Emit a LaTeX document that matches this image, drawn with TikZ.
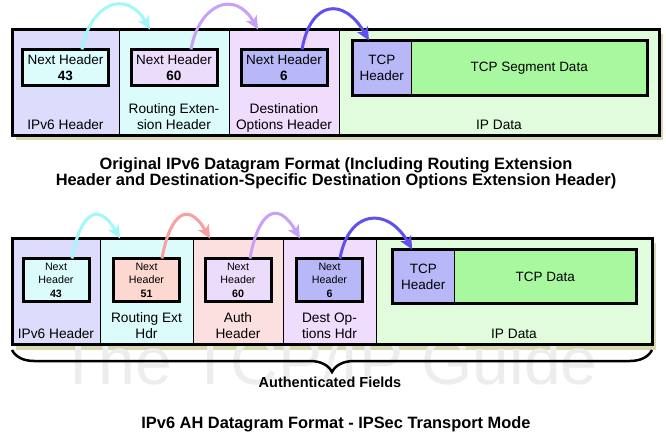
\documentclass[tikz,border=0pt]{standalone}
\usepackage{fontspec}
\setmainfont{Liberation Sans}
\usepackage{tikz}
\usetikzlibrary{positioning}
\usetikzlibrary{arrows.meta,decorations.pathreplacing,backgrounds}

\definecolor{ipvcol}{HTML}{DCDCFC}
\definecolor{rtecol}{HTML}{DCFCFC}
\definecolor{dstcol}{HTML}{F0DCFC}
\definecolor{authcol}{HTML}{FCE0E0}
\definecolor{ipdcol}{HTML}{E0FCDC}
\definecolor{nhpurple}{HTML}{ECDCFC}
\definecolor{nhsalmon}{HTML}{FCD8D0}
\definecolor{tcphcol}{HTML}{B8B8F8}
\definecolor{tcpdcol}{HTML}{A8F8A0}
\definecolor{shadowcol}{HTML}{D8D8B0}
\definecolor{arrcyan}{HTML}{A0F8F8}
\definecolor{arrpurple}{HTML}{C8A0F8}
\definecolor{arrblue}{HTML}{6050F0}
\definecolor{arrsalmon}{HTML}{F8A0A0}
\definecolor{wmark}{HTML}{EDEDED}

\begin{document}
\begin{tikzpicture}[x=1pt,y=1pt,>={Stealth[length=13pt,width=12pt,inset=3pt]},
        col/.style={draw,line width=0.8pt,minimum height=106pt,inner sep=0pt,outer sep=0pt,anchor=north west},
        nhbox/.style={draw,line width=3pt,minimum width=86pt,minimum height=36pt,inner sep=0pt,outer sep=0pt,
          align=center,font=\fontsize{13.5}{16}\selectfont},
        nhsmall/.style={draw,line width=3pt,minimum width=66pt,minimum height=43pt,inner sep=0pt,outer sep=0pt,
          align=center,font=\fontsize{10.7}{13.5}\selectfont},
        tcpbox/.style={draw,line width=0.8pt,inner sep=0pt,outer sep=0pt,align=center,
          font=\fontsize{13.5}{16}\selectfont},
        lbl/.style={align=center,inner sep=0pt,font=\fontsize{13.7}{16}\selectfont},
        title/.style={align=center,inner sep=0pt,font=\bfseries\fontsize{16.4}{16}\selectfont},
        link/.style={->,line width=3pt}]

  \useasboundingbox (0,0) rectangle (666,-438);

  % original datagram
  \node[col, fill=ipvcol, minimum width=107pt] (ipv6) at (12,-29.5) {};
  \node[col, fill=rtecol, minimum width=110pt, right=0pt of ipv6] (rte) {};
  \node[col, fill=dstcol, minimum width=110pt, right=0pt of rte] (dst) {};
  \node[col, fill=ipdcol, minimum width=320pt, right=0pt of dst] (ipd) {};
  \draw[line width=3pt] (ipv6.north west) rectangle (ipd.south east);

  \node[nhbox, fill=rtecol, below=20pt of ipv6.north] (nh1) {Next Header\\\textbf{43}};
  \node[nhbox, fill=nhpurple, below=20pt of rte.north] (nh2) {Next Header\\\textbf{60}};
  \node[nhbox, fill=tcphcol, below=20pt of dst.north] (nh3) {Next Header\\\textbf{6}};

  \node[tcpbox, fill=tcphcol, minimum width=58.5pt, minimum height=55pt, anchor=north west]
    (tcph) at ([shift={(13.5,-11)}]ipd.north west) {TCP\\Header};
  \node[tcpbox, fill=tcpdcol, minimum width=236.5pt, minimum height=55pt, right=0pt of tcph] (tcpd) {TCP Segment Data};
  \draw[line width=3pt] (tcph.north west) rectangle (tcpd.south east);

  \node[lbl, above=1pt of ipv6.south] {IPv6 Header\strut};
  \node[lbl, above=1pt of rte.south] {Routing Exten-\\sion Header\strut};
  \node[lbl, above=1pt of dst.south] {Destination\\Options Header\strut};
  \node[lbl, above=1pt of ipd.south] {IP Data\strut};

  \path (nh1.north) ++(16.5,0) coordinate (nh1a)
        (nh2.north) ++(17,0) coordinate (nh2a)
        (nh3.north) ++(18,0) coordinate (nh3a);
  \path[link] (nh1a) edge [arrcyan, out=80, in=120, looseness=1.7] ([xshift=31pt]rte.north west)
        (nh2a) edge [arrpurple, out=80, in=120, looseness=1.7] ([xshift=29pt]dst.north west)
        (nh3a) edge [arrblue, out=80, in=120, looseness=1.9] ([xshift=-12.75pt]tcph.north);

  \node[title] (title1) at (336,-173) {Original IPv6 Datagram Format (Including Routing Extension\\
    Header and Destination-Specific Destination Options Extension Header)};

  % AH datagram
  \node[col, fill=ipvcol, minimum width=88pt] (ipv6b) at (12,-238.5) {};
  \node[col, fill=rtecol, minimum width=93pt, right=0pt of ipv6b] (rteb) {};
  \node[col, fill=authcol, minimum width=90pt, right=0pt of rteb] (auth) {};
  \node[col, fill=dstcol, minimum width=93pt, right=0pt of auth] (dstb) {};
  \node[col, fill=ipdcol, minimum width=276pt, right=0pt of dstb] (ipdb) {};
  \draw[line width=3pt] (ipv6b.north west) rectangle (ipdb.south east);

  \node[nhsmall, fill=rtecol, below=20pt of ipv6b.north] (nhb1) {Next\\Header\\\textbf{43}};
  \node[nhsmall, fill=nhsalmon, below=20pt of rteb.north] (nhb2) {Next\\Header\\\textbf{51}};
  \node[nhsmall, fill=nhpurple, below=20pt of auth.north] (nhb3) {Next\\Header\\\textbf{60}};
  \node[nhsmall, fill=tcphcol, below=20pt of dstb.north] (nhb4) {Next\\Header\\\textbf{6}};

  \node[tcpbox, fill=tcphcol, minimum width=61.5pt, minimum height=54pt, anchor=north west]
    (tcphb) at ([shift={(16.5,-11)}]ipdb.north west) {TCP\\Header};
  \node[tcpbox, fill=tcpdcol, minimum width=182.5pt, minimum height=54pt, right=0pt of tcphb] (tcpdb) {TCP Data};
  \draw[line width=3pt] (tcphb.north west) rectangle (tcpdb.south east);

  \node[lbl, above=1.5pt of ipv6b.south] {IPv6 Header\strut};
  \node[lbl, above=1.5pt of rteb.south] {Routing Ext\\Hdr\strut};
  \node[lbl, above=1.5pt of auth.south] {Auth\\Header\strut};
  \node[lbl, above=1.5pt of dstb.south] {Dest Op-\\tions Hdr\strut};
  \node[lbl, above=1.5pt of ipdb.south] {IP Data\strut};

  \path (nhb1.north) ++(16,0) coordinate (nhb1a)
        (nhb2.north) ++(15.5,0) coordinate (nhb2a)
        (nhb3.north) ++(12,0) coordinate (nhb3a)
        (nhb4.north) ++(10.5,0) coordinate (nhb4a);
  \path[link] (nhb1a) edge [arrcyan, out=80, in=120, looseness=2.2] ([xshift=20pt]rteb.north west)
        (nhb2a) edge [arrsalmon, out=80, in=120, looseness=2.2] ([xshift=17pt]auth.north west)
        (nhb3a) edge [arrpurple, out=80, in=120, looseness=2.2] ([xshift=17pt]dstb.north west)
        (nhb4a) edge [arrblue, out=80, in=120, looseness=1.75] ([xshift=-11pt]tcphb.north);

  \draw[line width=2.5pt, decorate, decoration={brace, mirror, amplitude=22pt}]
    ([yshift=-5.5pt]ipv6b.south west) -- ([yshift=-5.5pt]ipdb.south east);
  \node[title, font=\bfseries\fontsize{14.5}{16}\selectfont, anchor=base] (authf) at (330,-387) {Authenticated Fields};
  \node[title, anchor=base] (title2) at (336,-428) {IPv6 AH Datagram Format - IPSec Transport Mode};

  \begin{scope}[on background layer]
    \fill[shadowcol] ([shift={(4,-5)}]ipv6.north west) rectangle ([shift={(4,-5)}]ipd.south east);
    \fill[shadowcol] ([shift={(4,-5)}]ipv6b.north west) rectangle ([shift={(4,-5)}]ipdb.south east);
    \node[text=wmark, inner sep=0pt, anchor=base, font=\fontsize{66}{66}\selectfont] (wm) at (328,-384) {The TCP/IP Guide};
  \end{scope}

\end{tikzpicture}
\end{document}
